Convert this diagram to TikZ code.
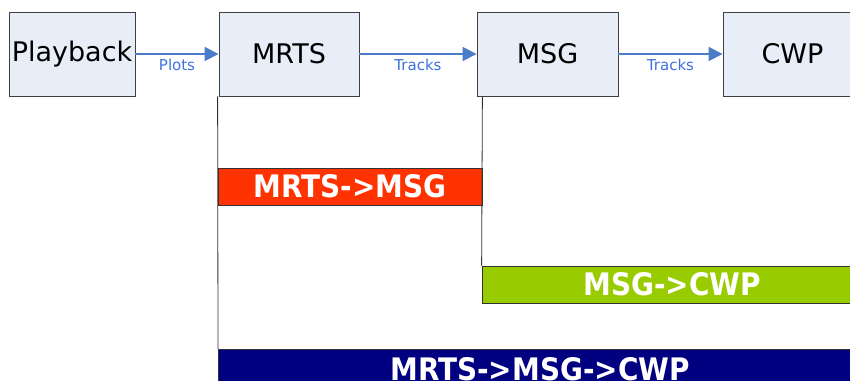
\documentclass[tikz,border=0pt]{standalone}
\usepackage{fontspec}
\setmainfont{DejaVu Sans}
\newfontfamily\barfont{DejaVu Sans Condensed Bold}
\usetikzlibrary{arrows.meta}
\definecolor{boxfill}{HTML}{E8EEF8}
\definecolor{boxdraw}{HTML}{404040}
\definecolor{arrowblue}{HTML}{4A7CC8}
\definecolor{labelblue}{HTML}{3F70E0}
\definecolor{barred}{HTML}{FF3300}
\definecolor{bargreen}{HTML}{99CC00}
\definecolor{barnavy}{HTML}{000080}
\tikzset{
  stage/.style={draw=boxdraw, fill=boxfill, line width=0.9pt, minimum height=84pt, inner sep=0pt, font=\fontsize{27}{29}\selectfont},
  flow/.style={draw=arrowblue, line width=1.8pt, -{Triangle[length=14pt,width=14pt]}},
  flowlabel/.style={text=labelblue, font=\fontsize{15}{17}\selectfont, inner sep=0pt},
  bar/.style={draw=black!80, line width=0.8pt, minimum height=37pt, inner sep=0pt, text=white, font=\barfont\fontsize{31}{33}\selectfont},
  vline/.style={draw=black!80, line width=0.8pt}
}
\begin{document}
\begin{tikzpicture}[x=1pt,y=-1pt]
\useasboundingbox (0,0) rectangle (850,380);
\clip (0,0) rectangle (850,380);
\node[stage, minimum width=126pt] (pb) at (72,54) {Playback};
\node[stage, minimum width=140pt] (mrts) at (289,54) {MRTS};
\node[stage, minimum width=141pt] (msg) at (547.5,54) {MSG};
\node[stage, minimum width=139pt] (cwp) at (792.5,54) {CWP};
\draw[flow] (pb.east) -- (mrts.west) node[flowlabel, pos=0.5, below=4pt] (l1) {Plots};
\draw[flow] (mrts.east) -- (msg.west) node[flowlabel, pos=0.5, below=4pt] (l2) {Tracks};
\draw[flow] (msg.east) -- (cwp.west) node[flowlabel, pos=0.5, below=4pt] (l3) {Tracks};
\node[bar, fill=barred, minimum width=264pt] (b1) at (350,186.5) {MRTS->MSG};
\node[bar, fill=bargreen, minimum width=380pt] (b2) at (672,284.5) {MSG->CWP};
\node[bar, fill=barnavy, minimum width=640pt, anchor=north west, text height=24pt, text depth=0pt] (b3) at (218,349) {};
\node[text=white, font=\barfont\fontsize{31}{33}\selectfont, inner sep=0pt] (b3t) at (540,369) {MRTS->MSG->CWP};
\draw[vline] (b1.north west |- mrts.south) -- (b3.north west);
\draw[vline] (b1.north east |- msg.south) -- (b2.north west);
\end{tikzpicture}
\end{document}
